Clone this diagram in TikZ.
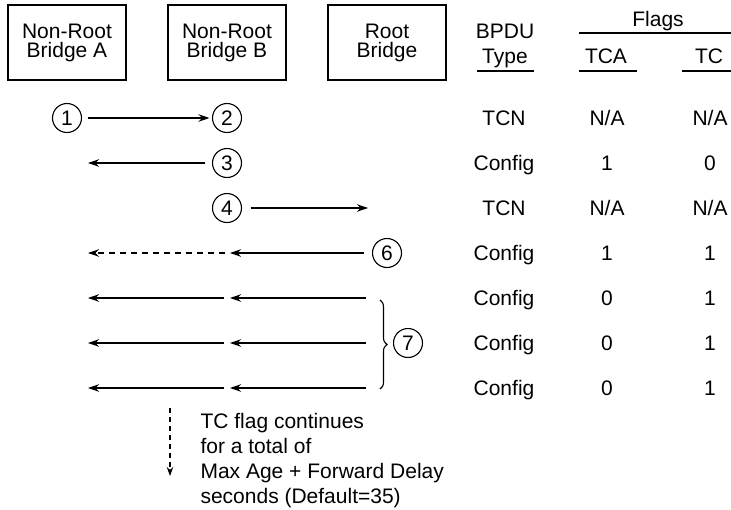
\documentclass[tikz,border=0pt]{standalone}
\usepackage{fontspec}
\setmainfont{Liberation Sans}
\usetikzlibrary{arrows.meta,decorations.pathreplacing,positioning,calc}
\tikzset{every picture/.style={line width=1.1pt}}
\newcommand{\notapp}{N/A}

\begin{document}
\begin{tikzpicture}[x=1pt, y=-1pt,
    font=\fontsize{21}{19}\selectfont,
    bridge/.style={draw, minimum width=118pt, minimum height=75pt, align=center, inner sep=0pt},
    num/.style={draw, circle, minimum size=29pt, inner sep=0pt},
    msg/.style={-{Stealth[length=11pt,width=7.5pt]}},
    cell/.style={anchor=base, inner sep=0pt}]
    \useasboundingbox (0,0) rectangle (731,509);

    % bridges
    \node[bridge] (bridgeA) at (67,42.5) {Non-Root\\Bridge A};
    \node[bridge] (bridgeB) at (227,42.5) {Non-Root\\Bridge B};
    \node[bridge] (root) at (387,42.5) {Root\\Bridge};

    % table header
    \node[cell] (bpdu) at (505,38) {BPDU};
    \node[cell] (type) at (505,63) {Type};
    \node[cell] (flags) at (658,26) {Flags};
    \node[cell] (tca) at (606,63) {TCA};
    \node[cell] (tc) at (709,63) {TC};
    \draw (579,33) -- (731,33);
    \draw (477,71) -- (534,71);
    \draw (579,71) -- (637,71);
    \draw (682,71) -- (731,71);

    % table rows
    \foreach \y/\t/\a/\c [count=\i] in {118/TCN/\notapp/\notapp, 163/Config/1/0,
        208/TCN/\notapp/\notapp, 253/Config/1/1, 298/Config/0/1, 343/Config/0/1, 388/Config/0/1} {
        \node[cell] (type\i) at (504,\y+7) {\t};
        \node[cell] (tca\i) at (607,\y+7) {\a};
        \node[cell] (tc\i) at (710,\y+7) {\c};
    }

    % step numbers
    \node[num] (n1) at (67,118) {1};
    \node[num] (n2) at (227,118) {2};
    \node[num] (n3) at (227,163) {3};
    \node[num] (n4) at (227,208) {4};
    \node[num] (n6) at (387,253) {6};
    \node[num] (n7) at (408,343) {7};

    % TCN from A to B
    \draw[msg, shorten <=5.5pt, shorten >=2.5pt] (n1) -- (n2);

    % ack back to A
    \coordinate (a3) at (88,163);
    \draw[msg, shorten <=6.5pt] (n3) -- (a3);

    % TCN from B to root
    \coordinate (b4) at (368,208);
    \draw[msg, shorten <=8.5pt] (n4) -- (b4);

    % root config with TCA and TC
    \coordinate (b6) at (230,253);
    \coordinate (a6) at (88,253);
    \draw[msg, shorten <=7.5pt] (n6) -- (b6);
    \draw[msg, dash pattern=on 6pt off 5pt, shorten <=5pt] (b6) -- (a6);

    % config with TC flag
    \foreach \y [count=\i] in {298,343,388} {
        \coordinate (r7\i) at (366,\y);
        \coordinate (m7\i) at (230,\y);
        \coordinate (l7\i) at (88,\y);
        \draw[msg] (r7\i) -- (m7\i);
        \draw[msg, shorten <=6pt] (m7\i) -- (l7\i);
    }
    \draw[decorate, decoration={brace, amplitude=7pt}] (380,300) -- (380,389);

    % note
    \coordinate (d1) at (170,408);
    \coordinate (d2) at (170,476);
    \draw[-{Stealth[length=9pt,width=6.5pt]}, dash pattern=on 5pt off 4pt] (d1) -- (d2);
    \node[align=left, anchor=north west, inner sep=0pt, font=\fontsize{21}{25}\selectfont] (note) at (200,413)
        {TC flag continues\\for a total of\\Max Age + Forward Delay\\seconds (Default=35)};
\end{tikzpicture}
\end{document}
